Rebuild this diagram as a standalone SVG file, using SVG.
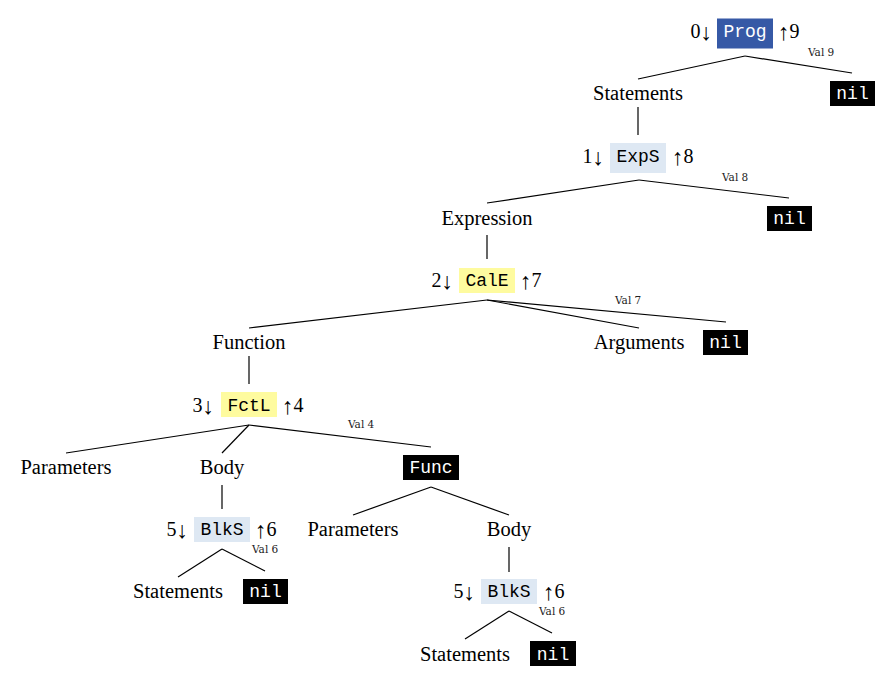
<svg xmlns="http://www.w3.org/2000/svg" width="894" height="686" viewBox="0 0 894 686">
<style>
.t{font-family:"Liberation Serif","Times New Roman",serif;font-size:20.5px;fill:#000;text-anchor:middle}
.n{font-family:"Liberation Serif","DejaVu Serif",serif;font-size:20px;fill:#000}
.a{font-size:23px}
.l{text-anchor:end}
.m{font-family:"Liberation Mono","Courier New",monospace;font-size:18px;text-anchor:middle}
.v{font-family:"DejaVu Serif","Liberation Serif",serif;font-size:10.5px;fill:#222}
.blue{fill:#3659a6}
.lb{fill:#dee8f3}
.yl{fill:#fefb9f}
.bk{fill:#000}
.w{fill:#fff}
.d{fill:#000}
.e line{stroke:#000;stroke-width:1.2}
</style>
<rect width="894" height="686" fill="#fff"/>
<g class="e" id="connectors">
<line x1="745" y1="56" x2="638" y2="79"/>
<line x1="745" y1="56" x2="852" y2="73"/>
<line x1="638" y1="107" x2="638" y2="135"/>
<line x1="639" y1="180" x2="487" y2="203"/>
<line x1="639" y1="180" x2="789" y2="198"/>
<line x1="487" y1="235" x2="487" y2="259"/>
<line x1="487" y1="300" x2="249" y2="328"/>
<line x1="487" y1="300" x2="639" y2="328"/>
<line x1="487" y1="300" x2="726" y2="322"/>
<line x1="249" y1="356" x2="249" y2="384"/>
<line x1="249" y1="425" x2="66" y2="453"/>
<line x1="249" y1="425" x2="222" y2="453"/>
<line x1="249" y1="425" x2="431" y2="447"/>
<line x1="222" y1="485" x2="222" y2="509"/>
<line x1="431" y1="487" x2="353" y2="515"/>
<line x1="431" y1="487" x2="509" y2="515"/>
<line x1="222" y1="549" x2="178" y2="577"/>
<line x1="222" y1="549" x2="265" y2="571"/>
<line x1="509" y1="547" x2="509" y2="572"/>
<line x1="509" y1="611" x2="465" y2="639"/>
<line x1="509" y1="611" x2="552" y2="633"/>
</g>
<g id="edge-labels">
<text class="v" x="808" y="56">Val 9</text>
<text class="v" x="722" y="181">Val 8</text>
<text class="v" x="615" y="304">Val 7</text>
<text class="v" x="348" y="428">Val 4</text>
<text class="v" x="252" y="553">Val 6</text>
<text class="v" x="539" y="615">Val 6</text>
</g>
<g id="prog">
<rect class="blue" x="717" y="18.5" width="56" height="30"/>
<text class="m w" x="745" y="37">Prog</text>
<text class="n l" x="712" y="38">0<tspan class="a" dy="2">↓</tspan></text>
<text class="n" x="778" y="40"><tspan class="a">↑</tspan><tspan dy="-2">9</tspan></text>
</g>
<g id="statements1"><text class="t" x="638" y="100.25">Statements</text></g>
<g id="nil1"><rect class="bk" x="830" y="81" width="45" height="25"/><text class="m w" x="852.5" y="99.25">nil</text></g>
<g id="exps">
<rect class="lb" x="610" y="143" width="56" height="30"/>
<text class="m d" x="638" y="161.5">ExpS</text>
<text class="n l" x="604" y="162.5">1<tspan class="a" dy="2">↓</tspan></text>
<text class="n" x="672" y="164.5"><tspan class="a">↑</tspan><tspan dy="-2">8</tspan></text>
</g>
<g id="expression"><text class="t" x="487" y="224.75">Expression</text></g>
<g id="nil2"><rect class="bk" x="767" y="206" width="45" height="25"/><text class="m w" x="789.5" y="223.75">nil</text></g>
<g id="cale">
<rect class="yl" x="459" y="268" width="56" height="25"/>
<text class="m d" x="487" y="286">CalE</text>
<text class="n l" x="453" y="287">2<tspan class="a" dy="2">↓</tspan></text>
<text class="n" x="520" y="289"><tspan class="a">↑</tspan><tspan dy="-2">7</tspan></text>
</g>
<g id="function"><text class="t" x="249" y="349.25">Function</text></g>
<g id="arguments"><text class="t" x="639" y="349.25">Arguments</text></g>
<g id="nil3"><rect class="bk" x="703" y="330" width="45" height="25"/><text class="m w" x="725.5" y="348.25">nil</text></g>
<g id="fctl">
<rect class="yl" x="221" y="392" width="56" height="25"/>
<text class="m d" x="249" y="410.5">FctL</text>
<text class="n l" x="214" y="411.5">3<tspan class="a" dy="2">↓</tspan></text>
<text class="n" x="282" y="413.5"><tspan class="a">↑</tspan><tspan dy="-2">4</tspan></text>
</g>
<g id="parameters1"><text class="t" x="66" y="473.75">Parameters</text></g>
<g id="body1"><text class="t" x="222" y="473.75">Body</text></g>
<g id="func"><rect class="bk" x="403" y="455" width="56" height="25"/><text class="m w" x="431" y="473">Func</text></g>
<g id="blks1">
<rect class="lb" x="194" y="517" width="56" height="25"/>
<text class="m d" x="222" y="535">BlkS</text>
<text class="n l" x="188" y="536">5<tspan class="a" dy="2">↓</tspan></text>
<text class="n" x="255" y="538"><tspan class="a">↑</tspan><tspan dy="-2">6</tspan></text>
</g>
<g id="parameters2"><text class="t" x="353" y="536">Parameters</text></g>
<g id="body2"><text class="t" x="509" y="536">Body</text></g>
<g id="statements2"><text class="t" x="178" y="598.25">Statements</text></g>
<g id="nil4"><rect class="bk" x="243" y="579" width="45" height="25"/><text class="m w" x="265.5" y="597.25">nil</text></g>
<g id="blks2">
<rect class="lb" x="481" y="579" width="56" height="25"/>
<text class="m d" x="509" y="597.25">BlkS</text>
<text class="n l" x="475" y="598.25">5<tspan class="a" dy="2">↓</tspan></text>
<text class="n" x="543" y="600.25"><tspan class="a">↑</tspan><tspan dy="-2">6</tspan></text>
</g>
<g id="statements3"><text class="t" x="465" y="660.5">Statements</text></g>
<g id="nil5"><rect class="bk" x="530" y="641" width="46" height="25"/><text class="m w" x="553" y="659.5">nil</text></g>
</svg>
